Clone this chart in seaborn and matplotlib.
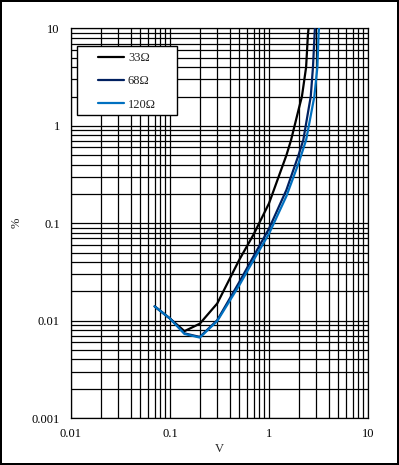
import numpy as np
import pandas as pd
import matplotlib
matplotlib.use("Agg")
import matplotlib.pyplot as plt
from matplotlib.patches import Rectangle
from matplotlib.lines import Line2D
from matplotlib.ticker import LogLocator, NullFormatter, FixedLocator, FixedFormatter
import seaborn as sns

# ---- data ----
series_names = ["33Ω", "68Ω", "120Ω"]
colors = ["#000000", "#002060", "#0070C0"]

x_33 = [0.07, 0.1, 0.14, 0.2, 0.3, 0.5, 0.7, 1.0, 1.5, 1.67, 2.0, 2.15, 2.37, 2.47, 2.52]
y_33 = [0.014, 0.0105, 0.0078, 0.0093, 0.015, 0.042, 0.077, 0.16, 0.50, 0.715, 1.5, 2.0, 4.0, 8.5, 10.5]

x_68 = [0.07, 0.1, 0.14, 0.2, 0.3, 0.5, 0.7, 1.0, 1.5, 2.0, 2.22, 2.5, 2.64, 2.78, 2.89, 2.92]
y_68 = [0.014, 0.0105, 0.0074, 0.0068, 0.0101, 0.0248, 0.046, 0.088, 0.22, 0.51, 0.715, 1.45, 2.0, 4.0, 8.9, 10.5]

x_120 = [0.07, 0.1, 0.14, 0.2, 0.3, 0.5, 0.7, 1.0, 1.5, 2.0, 2.37, 2.5, 2.87, 3.08, 3.17, 3.21]
y_120 = [0.014, 0.0105, 0.0073, 0.0067, 0.0099, 0.023, 0.042, 0.078, 0.19, 0.42, 0.715, 0.95, 2.0, 4.0, 8.9, 10.5]

x_ticks = [0.01, 0.1, 1, 10]
x_ticklabels = ["0.01", "0.1", "1", "10"]
y_ticks = [0.001, 0.01, 0.1, 1, 10]
y_ticklabels = ["0.001", "0.01", "0.1", "1", "10"]

df = pd.concat([
    pd.DataFrame({"V": x_33, "pct": y_33, "R": series_names[0]}),
    pd.DataFrame({"V": x_68, "pct": y_68, "R": series_names[1]}),
    pd.DataFrame({"V": x_120, "pct": y_120, "R": series_names[2]}),
], ignore_index=True)

sns.set_style("white")
plt.rcParams["font.family"] = ["Liberation Serif", "DejaVu Serif"]

W, H = 399, 465
fig = plt.figure(figsize=(W / 100, H / 100), dpi=100)
fig.patch.set_facecolor("white")
fig.patch.set_edgecolor("black")
fig.patch.set_linewidth(1.5)

ax = fig.add_axes([71 / W, 1 - 418 / H, (368 - 71) / W, (418 - 28.5) / H])

sns.lineplot(data=df, x="V", y="pct", hue="R", palette=dict(zip(series_names, colors)),
             estimator=None, sort=False, linewidth=1.6, ax=ax, legend=False, zorder=3)

ax.set_xscale("log")
ax.set_yscale("log")
ax.set_xlim(0.01, 10)
ax.set_ylim(0.001, 10)

ax.xaxis.set_major_locator(FixedLocator(x_ticks))
ax.xaxis.set_major_formatter(FixedFormatter(x_ticklabels))
ax.yaxis.set_major_locator(FixedLocator(y_ticks))
ax.yaxis.set_major_formatter(FixedFormatter(y_ticklabels))
ax.xaxis.set_minor_locator(LogLocator(base=10, subs=np.arange(2, 10)))
ax.yaxis.set_minor_locator(LogLocator(base=10, subs=np.arange(2, 10)))
ax.xaxis.set_minor_formatter(NullFormatter())
ax.yaxis.set_minor_formatter(NullFormatter())

ax.grid(True, which="both", color="black", linewidth=0.9)
ax.set_axisbelow(True)
for s in ax.spines.values():
    s.set_color("black")
    s.set_linewidth(0.9)

ax.tick_params(axis="both", which="both", length=0, labelsize=9, colors="black")
ax.tick_params(axis="x", pad=7)
ax.tick_params(axis="y", pad=8)

ax.set_xlabel("V", fontsize=9, labelpad=2)
ax.set_ylabel("%", fontsize=9, labelpad=6.5)

# legend frame
fig.patches.append(Rectangle((77 / W, 1 - 115 / H), 100 / W, 69 / H, transform=fig.transFigure,
                             facecolor="white", edgecolor="black", linewidth=1.0, zorder=5))

handles = [Line2D([], [], color=c, linewidth=1.6) for c in colors]
leg = fig.legend(handles, series_names, loc="upper left", bbox_to_anchor=(98 / W, 1 - 52 / H),
                 frameon=False, fontsize=9, borderpad=0, handlelength=2.1, handletextpad=0.3,
                 labelspacing=0.9, borderaxespad=0)
leg.set_zorder(6)

fig.savefig("out.png", dpi=100)
